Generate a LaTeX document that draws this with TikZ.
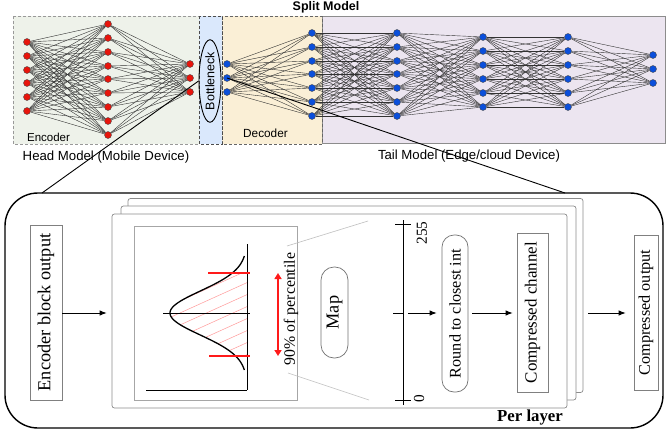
\documentclass[tikz,border=0pt]{standalone}
\usepackage{fontspec}
\setmainfont{Liberation Serif}
\setsansfont{Liberation Sans}
\usetikzlibrary{arrows.meta,shapes.geometric}
\pgfdeclarelayer{boxes}
\pgfdeclarelayer{wires}
\pgfsetlayers{boxes,wires,main}

\definecolor{headfill}{HTML}{EEF2EA}
\definecolor{neckfill}{HTML}{DAE8FC}
\definecolor{decfill}{HTML}{FAEFD6}
\definecolor{tailfill}{HTML}{ECE5F0}
\definecolor{redunit}{HTML}{E8150C}
\definecolor{blueunit}{HTML}{0B4FDB}
\definecolor{hatch}{HTML}{FF9A9A}
\definecolor{limitred}{HTML}{FF1A1A}

\tikzset{
  unit/.style={circle, inner sep=0pt, minimum size=7pt, draw=black!70, line width=0.4pt},
  redu/.style={unit, fill=redunit},
  blueu/.style={unit, fill=blueunit},
  wire/.style={draw=black!80, line width=0.4pt},
  sanslabel/.style={inner sep=0pt, font=\sffamily\fontsize{#1}{#1}\selectfont},
  vtext/.style={inner sep=0pt, rotate=90, font=\fontsize{#1}{#1}\selectfont},
  sheet/.style={draw=black!45, fill=white, line width=0.7pt, rounded corners=2.5pt, minimum width=455pt, minimum height=194pt, inner sep=0pt},
  flowbox/.style={draw=black!50, line width=0.7pt, inner sep=0pt},
  flow/.style={-{Latex[length=7pt,width=5.5pt]}, line width=0.9pt},
  zoomline/.style={line width=0.9pt}
}

\begin{document}
\begin{tikzpicture}[x=1pt, y=-1pt]
\useasboundingbox (0,0) rectangle (668,431);

% ---------- split model panels ----------
\begin{pgfonlayer}{boxes}
  \fill[headfill] (13,16) rectangle (199,144);
  \draw[black!40, dash pattern=on 3pt off 2pt, line width=0.7pt] (13,16) rectangle (199,144);
  \fill[tailfill] (322,16) rectangle (665,143);
  \draw[black!45, line width=0.9pt] (322,16) rectangle (665,143);
  \fill[decfill] (222,16) rectangle (322,144);
  \draw[black!60, dash pattern=on 3pt off 2pt, line width=0.8pt] (222,16) rectangle (322,144);
  \fill[neckfill] (199,16) rectangle (222,144);
  \draw[black!70, dash pattern=on 3pt off 2pt, line width=0.9pt] (199,16) rectangle (222,144);
\end{pgfonlayer}

% ---------- units ----------
\foreach \y [count=\i] in {42,56,70,83,97,111} \node[redu] (a\i) at (27,\y) {};
\foreach \y [count=\i] in {24,38,52,66,79,93,107,121,135} \node[redu] (b\i) at (108,\y) {};
\foreach \y [count=\i] in {64,78,92} \node[redu] (c\i) at (190,\y) {};
\foreach \y [count=\i] in {64,78,92} \node[blueu] (d\i) at (227,\y) {};
\foreach \y [count=\i] in {33,47,61,74,88,102,116} \node[blueu] (e\i) at (312,\y) {};
\foreach \y [count=\i] in {33,47,61,74,88,102,116} \node[blueu] (f\i) at (397,\y) {};
\foreach \y [count=\i] in {37,51,65,79,93,107} \node[blueu] (g\i) at (483,\y) {};
\foreach \y [count=\i] in {37,51,65,79,93,107} \node[blueu] (h\i) at (568,\y) {};
\foreach \y [count=\i] in {55,69,83} \node[blueu] (k\i) at (653,\y) {};

% ---------- dense connections ----------
\begin{pgfonlayer}{wires}
  \foreach \i in {1,...,6} \foreach \j in {1,...,9} \draw[wire] (a\i) -- (b\j);
  \foreach \i in {1,...,9} \foreach \j in {1,...,3} \draw[wire] (b\i) -- (c\j);
  \foreach \i in {1,...,3} \foreach \j in {1,...,7} \draw[wire] (d\i) -- (e\j);
  \foreach \i in {1,...,7} \foreach \j in {1,...,7} \draw[wire] (e\i) -- (f\j);
  \foreach \i in {1,...,7} \foreach \j in {1,...,6} \draw[wire] (f\i) -- (g\j);
  \foreach \i in {1,...,6} \foreach \j in {1,...,6} \draw[wire] (g\i) -- (h\j);
  \foreach \i in {1,...,6} \foreach \j in {1,...,3} \draw[wire] (h\i) -- (k\j);
\end{pgfonlayer}

% bottleneck
\node[ellipse, draw, line width=0.9pt, rotate=90, minimum width=72pt, minimum height=22pt, inner sep=0pt,
      font=\sffamily\fontsize{12.5}{12.5}\selectfont] (neck) at (210,81) {Bottleneck};

% panel labels
\node[inner sep=0pt, font=\sffamily\bfseries\fontsize{12.5}{12.5}\selectfont, anchor=base] (split) at (326,10) {Split Model};
\node[sanslabel=11.5] (enc) at (48.5,137) {Encoder};
\node[sanslabel=11.8] (dec) at (265.5,133) {Decoder};
\node[sanslabel=13.2] (head) at (106,157.5) {Head Model (Mobile Device)};
\node[sanslabel=13.2] (tail) at (469,156) {Tail Model (Edge/cloud Device)};

% ---------- per-layer compression panel ----------
\draw[line width=1.4pt, rounded corners=33pt] (5,193) rectangle (663,428);
\coordinate (lz) at (42,193);
\coordinate (rz) at (565,193);
\draw[zoomline] (neck.north) -- (lz);
\draw[zoomline] (d2.center) -- (rz);

\node[sheet] (back) at (355.5,295.5) {};
\node[sheet] (middle) at (348.5,303) {};
\node[sheet] (front) at (339.5,311) {};

\node[flowbox, minimum width=32pt, minimum height=175pt] (encbox) at (46,312.5) {};
\node[vtext=18.3] at (encbox) {Encoder block output};
\draw[flow, shorten >=5pt] (encbox.east |- 0,313) -- (front.west |- 0,313);

% distribution plot
\node[draw=black!35, line width=0.6pt, minimum width=163pt, minimum height=174pt, inner sep=0pt] (plotframe) at (215.5,313) {};
\begin{scope}
  \clip plot[domain=273:356, samples=60] ({247-77*exp(-((\x-313)^2)/968)}, \x) -- (247,356) -- (247,273) -- cycle;
  \foreach \k in {262,274,...,418} \draw[hatch, line width=0.5pt] (160,\k) -- (255,\k-43);
\end{scope}
\draw[line width=0.8pt] (163,313) -- (250,313);
\draw[line width=1pt] (247,244) -- (247,390);
\draw[line width=1pt] (146,390) -- (247,390);
\draw[line width=1.3pt] plot[domain=256:370, samples=90, smooth] ({247-77*exp(-((\x-313)^2)/968)}, \x);
\draw[limitred, line width=1.1pt] (208,273) -- (250,273);
\draw[limitred, line width=1.1pt] (209,356) -- (250,356);
\draw[limitred, line width=1.6pt, {Triangle[length=6pt,width=7pt]}-{Triangle[length=6pt,width=7pt]}] (278,273) -- (278,356);
\node[vtext=15.8] (pct) at (291,309) {90\% of percentile};

% zoom guides towards the scale
\draw[black!25, line width=0.6pt] (287,246) -- (368,221);
\draw[black!25, line width=0.6pt] (288,373) -- (369,400);

% map step
\node[flowbox, draw=black!55, rounded corners=13pt, minimum width=27pt, minimum height=91pt] (mapbox) at (334.5,312.5) {};
\node[vtext=18.3] at (mapbox) {Map};

% 0..255 scale
\draw[line width=0.8pt] (403,220) -- (403,405);
\draw[line width=0.8pt] (395,224) -- (411,224);
\draw[line width=0.8pt] (393,313) -- (403,313);
\draw[line width=0.8pt] (395,400) -- (411,400);
\coordinate (scalemid) at (403,313);
\node[vtext=15.3] (top) at (422,233) {255};
\node[vtext=15.3] (bottom) at (419,399) {0};

% rounding and output
\node[flowbox, draw=black!55, rounded corners=12pt, minimum width=26pt, minimum height=157pt] (roundbox) at (455,313.5) {};
\node[vtext=16.2] at (roundbox) {Round to closest int};
\node[flowbox, minimum width=31pt, minimum height=159pt] (chanbox) at (532.5,312.5) {};
\node[vtext=17] at (chanbox) {Compressed channel};
\node[flowbox, minimum width=24pt, minimum height=155pt] (outbox) at (646,312.5) {};
\node[vtext=16.2] at (outbox) {Compressed output};

\draw[flow, shorten <=5pt, shorten >=5pt] (scalemid) -- (roundbox.west |- scalemid);
\draw[flow, shorten <=4pt, shorten >=4pt] (roundbox.east |- scalemid) -- (chanbox.west |- scalemid);
\draw[flow, shorten <=5pt, shorten >=8pt] (back.east |- scalemid) -- (outbox.west |- scalemid);

\node[inner sep=0pt, font=\bfseries\fontsize{16.8}{16.8}\selectfont] (perlayer) at (530,417) {Per layer};
\end{tikzpicture}
\end{document}
